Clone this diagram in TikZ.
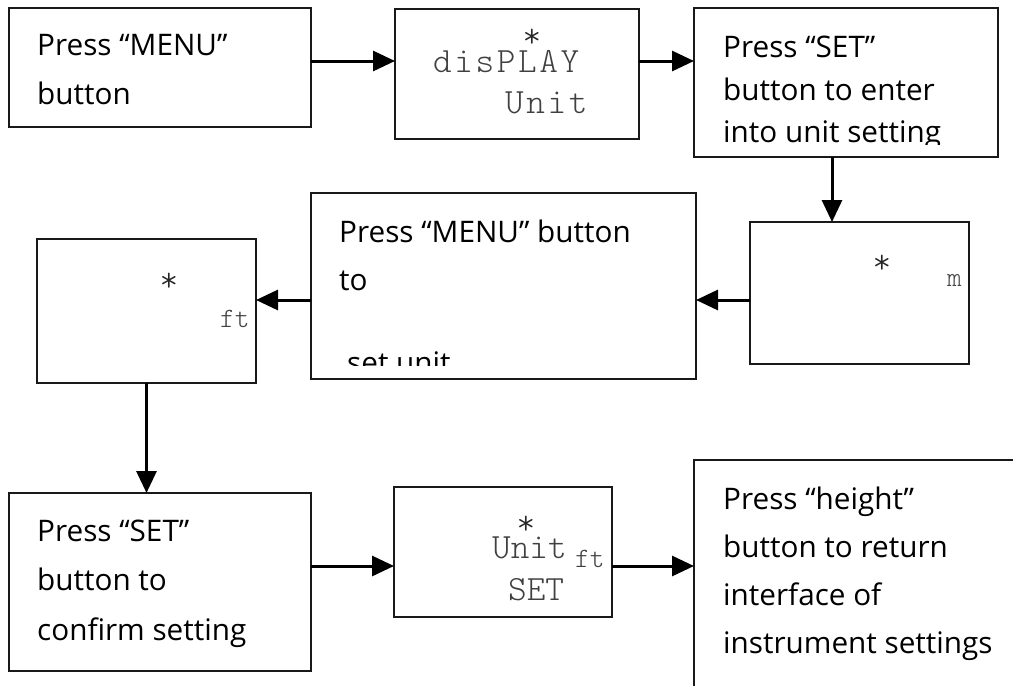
\documentclass[tikz,border=0pt]{standalone}
\usepackage{fontspec}
\setmainfont{Open Sans}
\newfontfamily\lcdfont{lmmonolt10-regular.otf}
\usetikzlibrary{arrows.meta,calc}

% letter-spaced display text: \tracked{<kern>}{<letters>}
\makeatletter
\newcommand\tracked[2]{\@tfor\trk@c:=#2\do{\trk@c\kern#1}}
\makeatother

\tikzset{
  box/.style={draw=black!90, line width=2.4pt, inner sep=0pt, outer sep=0pt, anchor=north west},
  flow/.style={line width=3pt, -{Triangle[length=22pt,width=20pt]}},
  say/.style={anchor=base west, inner sep=0pt, font=\fontsize{29.7}{30}\selectfont},
  lcd/.style={anchor=base west, inner sep=0pt, text=black!75, font=\lcdfont\fontsize{35.5}{36}\selectfont},
  lcdsmall/.style={anchor=base west, inner sep=0pt, text=black!75, font=\lcdfont\fontsize{28}{28}\selectfont},
  star/.style={inner sep=0pt, text=black!85, font=\lcdfont\fontsize{35.5}{36}\selectfont}
}

\begin{document}
\begin{tikzpicture}[x=1pt,y=-1pt]
\useasboundingbox (0,0) rectangle (1013,686);
\clip (0,0) rectangle (1013,686);

% boxes
\node[box, minimum width=302pt, minimum height=119pt] (A) at (9,8) {};
\node[box, minimum width=244pt, minimum height=130pt] (B) at (395,9) {};
\node[box, minimum width=304pt, minimum height=149pt] (C) at (694,8) {};
\node[box, minimum width=219pt, minimum height=142pt] (E) at (750,222) {};
\node[box, minimum width=385pt, minimum height=186pt] (D) at (311,193) {};
\node[box, minimum width=219pt, minimum height=144pt] (F) at (37,239) {};
\node[box, minimum width=302pt, minimum height=178pt] (G) at (9,493) {};
\node[box, minimum width=218pt, minimum height=130pt] (H) at (394,487) {};
\node[box, minimum width=340pt, minimum height=240pt] (I) at (694,460) {};

% connectors
\draw[flow] ([yshift=6.5pt]A.east) coordinate (a1) -- (a1 -| B.west);
\draw[flow] ([yshift=13pt]B.east) coordinate (b1) -- (b1 -| C.west);
\draw[flow] ([xshift=-14pt]C.south) coordinate (c1) -- (c1 |- E.north);
\draw[flow] ([yshift=-7pt]E.west) coordinate (e1) -- (e1 -| D.east);
\draw[flow] ([yshift=-14pt]D.west) coordinate (d1) -- (d1 -| F.east);
\draw[flow] (F.south) -- (F.south |- G.north);
\draw[flow] ([yshift=16pt]G.east) coordinate (g1) -- (g1 -| H.west);
\draw[flow] ([yshift=-14pt]H.east) coordinate (h1) -- (h1 -| I.west);

% instructions
\node[say] (A1) at (37,55) {Press “MENU”};
\node[say] (A2) at (37,104) {button};

\node[say] (C1) at (723,57) {Press “SET”};
\node[say] (C2) at (723,100) {button to enter};
\begin{scope}
  \clip (C.north west) rectangle ([yshift=13pt]C.south east);
  \node[say] (C3) at (723,142) {into unit setting};
\end{scope}

\node[say] (D1) at (339,242) {Press “MENU” button};
\node[say] (D2) at (339,290) {to};
\begin{scope}
  \clip (D.north west) rectangle ([yshift=14pt]D.south east);
  \node[say] (D3) at (347,373) {set unit};
\end{scope}

\node[say] (G1) at (37,541) {Press “SET”};
\node[say] (G2) at (37,590) {button to};
\node[say] (G3) at (37,640) {confirm setting};

\node[say] (I1) at (723,509) {Press “height”};
\node[say] (I2) at (723,557) {button to return};
\node[say] (I3) at (723,605) {interface of};
\node[say] (I4) at (723,653) {instrument settings};

% display screens
\node[star] (Bs) at (532,38) {*};
\node[lcd] (B1) at (433,72) {\tracked{2.6pt}{disPLAY}};
\node[lcd] (B2) at (505,113) {\tracked{2.6pt}{Unit}};

\node[star] (Es) at (882,264) {*};
\node[lcdsmall] (E1) at (947,286) {m};

\node[star] (Fs) at (169,282) {*};
\node[lcdsmall] (F1) at (220,327) {ft};

\node[star] (Hs) at (526,525) {*};
\node[lcd] (H1) at (492,558) {Unit};
\node[lcdsmall] (H2) at (575,567) {ft};
\node[lcd] (H3) at (508,600) {SET};
\end{tikzpicture}
\end{document}
